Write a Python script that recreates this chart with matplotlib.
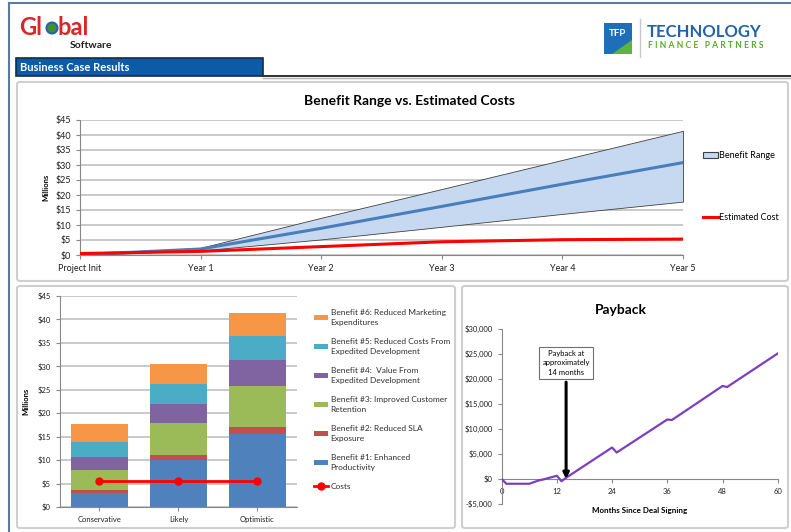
import matplotlib
matplotlib.use("Agg")
import matplotlib.pyplot as plt
from matplotlib.patches import FancyBboxPatch, Rectangle, Ellipse, Polygon, Patch
from matplotlib.lines import Line2D
from matplotlib.ticker import FuncFormatter

plt.rcParams['font.family'] = ['Lato', 'DejaVu Sans']

# ---- data ----
years = ["Project Init", "Year 1", "Year 2", "Year 3", "Year 4", "Year 5"]
benefit_low = [0.0, 1.5, 5.2, 9.4, 13.7, 17.8]
benefit_mid = [0.1, 2.0, 8.9, 16.2, 23.6, 30.8]
benefit_high = [0.2, 2.4, 12.4, 22.0, 31.7, 41.4]
est_cost = [0.5, 1.2, 2.8, 4.4, 5.1, 5.3]

scenarios = ["Conservative", "Likely", "Optimistic"]
benefit_labels = [
    "Benefit #1: Enhanced\nProductivity",
    "Benefit #2: Reduced SLA\nExposure",
    "Benefit #3: Improved Customer\nRetention",
    "Benefit #4:  Value From\nExpedited Development",
    "Benefit #5: Reduced Costs From\nExpedited Development",
    "Benefit #6: Reduced Marketing\nExpenditures",
]
b1 = [3.05, 10.1, 15.5]
b2 = [0.5, 1.05, 1.55]
b3 = [4.4, 6.75, 8.8]
b4 = [2.65, 4.05, 5.55]
b5 = [3.3, 4.2, 5.05]
b6 = [3.9, 4.4, 4.9]
costs = [5.5, 5.5, 5.5]

pay_months = [0, 1, 6, 8, 9, 12, 13, 14, 24, 25, 36, 37, 48, 49, 60]
pay_values = [0, -950, -950, -300, -100, 650, -450, 250, 6300, 5300, 11900, 11800, 18600, 18400, 25100]

bar_colors = ["#4f81bd", "#c0504d", "#9bbb59", "#8064a2", "#4bacc6", "#f79646"]

W, H = 791, 532
fig = plt.figure(figsize=(W / 100, H / 100), dpi=100)
fig.patch.set_facecolor("white")


def fx(px):
    return px / W


def fy(py):
    return 1 - py / H


def rect(l, t, r, b):
    return [fx(l), fy(b), fx(r) - fx(l), fy(t) - fy(b)]


# outer frame lines
fig.add_artist(Line2D([fx(9), 1], [fy(3), fy(3)], color="#5a78a8", lw=1.5))
fig.add_artist(Line2D([fx(9), fx(9)], [fy(3), 0], color="#5a78a8", lw=1.5))

# Global Software logo
fig.text(fx(19), fy(35), "Gl", color="#d9262b", fontsize=17, fontweight="bold")
fig.add_artist(Ellipse((fx(52), fy(28)), 11 / W, 11 / H, facecolor="#3f8f3a", edgecolor="#2a64a8", lw=1.5))
fig.text(fx(57.5), fy(35), "bal", color="#d9262b", fontsize=17, fontweight="bold")
fig.text(fx(70), fy(48), "Software", color="#202020", fontsize=7.5, fontweight="bold")

# TFP logo
fig.add_artist(Rectangle((fx(604), fy(54)), 28 / W, 31 / H, facecolor="#1f6fb8", edgecolor="none"))
fig.add_artist(Polygon([(fx(604), fy(54)), (fx(632), fy(54)), (fx(632), fy(40)), (fx(612), fy(54))],
                       closed=True, facecolor="#5fb33a", edgecolor="none"))
fig.text(fx(618), fy(34), "TFP", color="white", fontsize=7, fontweight="bold", ha="center", va="center")
fig.add_artist(Line2D([fx(640), fx(640)], [fy(19), fy(57)], color="#c8c8c8", lw=1))
fig.text(fx(647), fy(32), "TECHNOLOGY", color="#1f63a8", fontsize=12, fontweight="bold", va="center")
fig.text(fx(648), fy(46), "F I N A N C E   P A R T N E R S", color="#5aab2e", fontsize=6.2,
         fontweight="bold", va="center")

# Business Case Results tab
fig.add_artist(Rectangle((fx(16), fy(76)), 247 / W, 18 / H, facecolor="#0b5ba6", edgecolor="#1a2a40", lw=1.2))
fig.text(fx(20), fy(67.5), "Business Case Results", color="white", fontsize=8, fontweight="bold", va="center")
fig.add_artist(Line2D([fx(263), 1], [fy(75.5), fy(75.5)], color="#303030", lw=1.4))
fig.add_artist(Line2D([fx(263), 1], [fy(78), fy(78)], color="#b0b0b0", lw=1))

# panel boxes
for l, t, r, b in [(17, 82, 788, 281), (17, 286, 455, 528), (462, 286, 788, 528)]:
    fig.add_artist(FancyBboxPatch((fx(l), fy(b)), fx(r) - fx(l), fy(t) - fy(b),
                                  boxstyle="round,pad=0,rounding_size=0.004",
                                  facecolor="white", edgecolor="#cfcfcf", lw=1.5, zorder=0))

grid_kw = dict(color="#c0c0c0", lw=1.2)
money = FuncFormatter(lambda v, p: f"${v:.0f}")

# ---- top chart: benefit range vs estimated costs ----
ax1 = fig.add_axes(rect(80, 120, 683, 255))
xs = list(range(len(years)))
ax1.fill_between(xs, benefit_low, benefit_high, facecolor="#c6d9f1", edgecolor="#404040", lw=0.6,
                 label="Benefit Range", zorder=2)
ax1.plot(xs, benefit_mid, color="#4a7ebb", lw=2.2, zorder=3)
ax1.plot(xs, est_cost, color="#ff0000", lw=2.2, label="Estimated Cost", zorder=3)
ax1.set_xlim(0, 5)
ax1.set_ylim(0, 45)
ax1.set_yticks(range(0, 46, 5))
ax1.yaxis.set_major_formatter(money)
ax1.set_xticks(xs)
ax1.set_xticklabels(years)
ax1.grid(axis="y", **grid_kw)
ax1.set_axisbelow(True)
for s in ["top", "right"]:
    ax1.spines[s].set_visible(False)
for s in ["left", "bottom"]:
    ax1.spines[s].set_color("#888888")
ax1.tick_params(labelsize=6.5, colors="#202020", length=3, color="#888888")
ax1.set_ylabel("Millions", fontsize=5.5, fontweight="bold", labelpad=4)
fig.text(fx(410), fy(101), "Benefit Range vs. Estimated Costs", fontsize=10, fontweight="bold",
         ha="center", va="center")
ax1.legend(handles=[Patch(facecolor="#c6d9f1", edgecolor="#404040", lw=0.8),
                    Line2D([], [], color="#ff0000", lw=2.2)],
           labels=["Benefit Range", "Estimated Cost"],
           loc="upper left", bbox_to_anchor=(1.02, 0.83), frameon=False, fontsize=6.5,
           labelspacing=5.9, handlelength=1.6, handletextpad=0.1)

# ---- bottom left: stacked bars ----
ax2 = fig.add_axes(rect(60, 296, 297, 507))
bx = list(range(len(scenarios)))
bottom = [0, 0, 0]
handles = []
for vals, col, lab in zip([b1, b2, b3, b4, b5, b6], bar_colors, benefit_labels):
    h = ax2.bar(bx, vals, bottom=bottom, width=0.73, color=col, label=lab, zorder=2)
    handles.append(h)
    bottom = [a + v for a, v in zip(bottom, vals)]
cl, = ax2.plot(bx, costs, color="#ff0000", lw=2, marker="o", markersize=5, label="Costs", zorder=3)
ax2.set_xlim(-0.5, 2.5)
ax2.set_ylim(0, 45)
ax2.set_yticks(range(0, 46, 5))
ax2.yaxis.set_major_formatter(money)
ax2.set_xticks(bx)
ax2.set_xticklabels(scenarios)
ax2.grid(axis="y", **grid_kw)
ax2.set_axisbelow(True)
for s in ["top", "right"]:
    ax2.spines[s].set_visible(False)
for s in ["left", "bottom"]:
    ax2.spines[s].set_color("#888888")
ax2.tick_params(labelsize=5.5, colors="#202020", length=3, color="#888888")
ax2.set_ylabel("Millions", fontsize=5.5, fontweight="bold", labelpad=6)
leg2 = ax2.legend(handles=handles[::-1] + [cl], labels=benefit_labels[::-1] + ["Costs"],
                  loc="upper left", bbox_to_anchor=(1.04, 0.975), frameon=False, fontsize=6,
                  labelspacing=1.4, handlelength=1.7, handleheight=0.5, handletextpad=0.3)
for t in leg2.get_texts():
    t.set_linespacing(1.55)
    t.set_color("#303030")

# ---- bottom right: payback ----
ax3 = fig.add_axes(rect(501.7, 329, 777.7, 504))
ax3.plot(pay_months, pay_values, color="#7b3fc4", lw=1.6, zorder=3)
ax3.set_xlim(0, 60)
ax3.set_ylim(-5000, 30000)
ax3.set_xticks(range(0, 61, 12))
ax3.set_yticks(range(-5000, 30001, 5000))
ax3.yaxis.set_major_formatter(FuncFormatter(lambda v, p: f"-${abs(v):,.0f}" if v < 0 else f"${v:,.0f}"))
ax3.spines["bottom"].set_position(("data", 0))
for s in ["top", "right"]:
    ax3.spines[s].set_visible(False)
for s in ["left", "bottom"]:
    ax3.spines[s].set_color("#888888")
ax3.tick_params(labelsize=5.5, colors="#202020", length=3, color="#888888")
ax3.annotate("Payback at\napproximately\n14 months", xy=(14, 0), xytext=(14, 23200),
             ha="center", va="center", fontsize=5.5, linespacing=1.4,
             bbox=dict(boxstyle="square,pad=0.4", facecolor="white", edgecolor="#707070", lw=0.8),
             arrowprops=dict(arrowstyle="-|>,head_width=0.3,head_length=0.6", color="black", lw=2.2,
                             shrinkA=2, shrinkB=0))
fig.text(fx(621), fy(310), "Payback", fontsize=10, fontweight="bold", ha="center", va="center")
fig.text(fx(640), fy(511), "Months Since Deal Signing", fontsize=5.8, fontweight="bold",
         ha="center", va="center")

fig.savefig("out.png", dpi=100)
